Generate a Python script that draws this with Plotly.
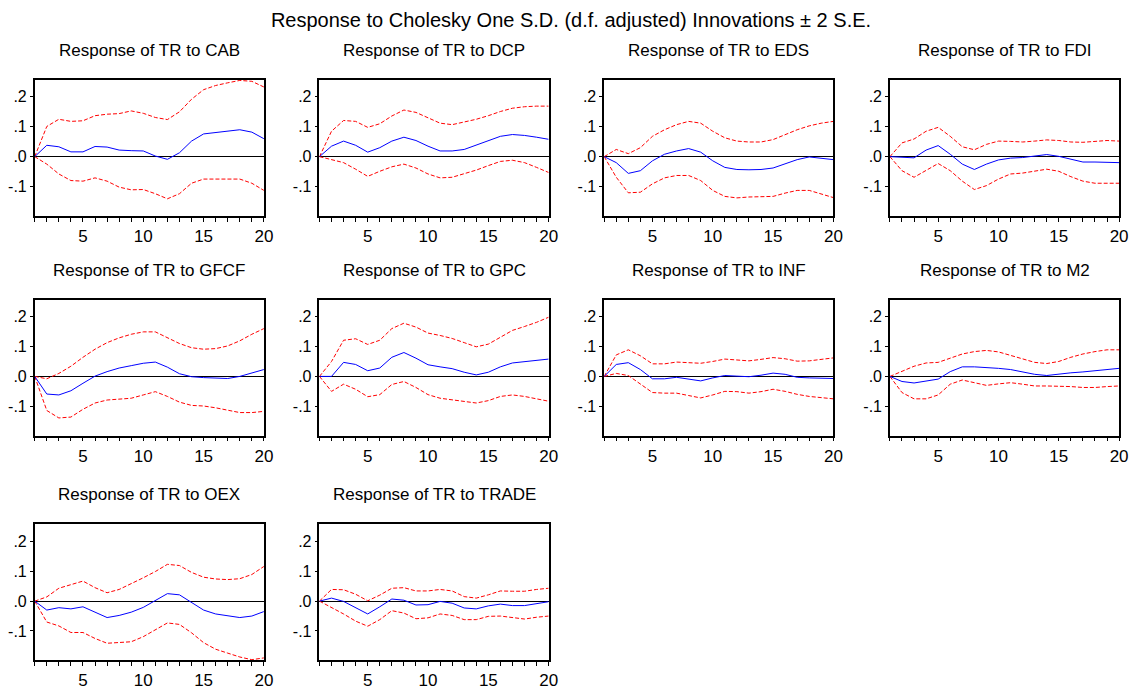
import plotly.graph_objects as go

periods = list(range(1, 21))
shocks = ["CAB", "DCP", "EDS", "FDI", "GFCF", "GPC", "INF", "M2", "OEX", "TRADE"]

y_tick_vals = [0.2, 0.1, 0.0, -0.1]
y_tick_text = [".2", ".1", ".0", "-.1"]
x_tick_vals = [5, 10, 15, 20]

cab_resp = [0, 0.038, 0.033, 0.016, 0.016, 0.034, 0.032, 0.022, 0.020, 0.019, 0.002, -0.009, 0.013, 0.052, 0.076, 0.080, 0.085, 0.090, 0.082, 0.060]
cab_upper = [0, 0.101, 0.125, 0.118, 0.120, 0.137, 0.142, 0.144, 0.153, 0.145, 0.131, 0.124, 0.150, 0.192, 0.224, 0.238, 0.247, 0.255, 0.252, 0.233]
cab_lower = [0, -0.025, -0.058, -0.080, -0.082, -0.071, -0.082, -0.102, -0.111, -0.110, -0.124, -0.141, -0.124, -0.089, -0.075, -0.075, -0.075, -0.075, -0.089, -0.113]

dcp_resp = [0, 0.035, 0.052, 0.038, 0.015, 0.030, 0.052, 0.065, 0.054, 0.035, 0.019, 0.019, 0.024, 0.038, 0.054, 0.068, 0.074, 0.071, 0.065, 0.058]
dcp_upper = [0, 0.085, 0.121, 0.118, 0.098, 0.110, 0.136, 0.156, 0.148, 0.129, 0.112, 0.107, 0.115, 0.125, 0.137, 0.151, 0.162, 0.167, 0.169, 0.169]
dcp_lower = [0, -0.009, -0.020, -0.042, -0.066, -0.049, -0.034, -0.025, -0.038, -0.058, -0.071, -0.069, -0.058, -0.045, -0.030, -0.016, -0.012, -0.020, -0.036, -0.053]

eds_resp = [0, -0.020, -0.056, -0.047, -0.014, 0.008, 0.019, 0.027, 0.015, -0.014, -0.036, -0.043, -0.044, -0.043, -0.038, -0.025, -0.010, -0.001, -0.005, -0.010]
eds_upper = [0, 0.024, 0.010, 0.030, 0.068, 0.090, 0.107, 0.118, 0.112, 0.085, 0.063, 0.052, 0.049, 0.049, 0.057, 0.074, 0.090, 0.103, 0.112, 0.118]
eds_lower = [0, -0.069, -0.121, -0.119, -0.091, -0.071, -0.063, -0.063, -0.080, -0.113, -0.133, -0.138, -0.135, -0.135, -0.133, -0.122, -0.113, -0.113, -0.124, -0.137]

fdi_resp = [0, -0.001, -0.004, 0.022, 0.037, 0.008, -0.025, -0.043, -0.025, -0.011, -0.005, -0.003, 0.002, 0.007, 0.001, -0.009, -0.018, -0.018, -0.018, -0.020]
fdi_upper = [0, 0.046, 0.059, 0.085, 0.098, 0.068, 0.033, 0.023, 0.041, 0.052, 0.051, 0.049, 0.052, 0.056, 0.054, 0.049, 0.048, 0.052, 0.054, 0.052]
fdi_lower = [0, -0.047, -0.069, -0.045, -0.023, -0.047, -0.082, -0.110, -0.097, -0.075, -0.058, -0.055, -0.049, -0.042, -0.049, -0.067, -0.082, -0.089, -0.089, -0.089]

gfcf_resp = [0, -0.059, -0.062, -0.048, -0.023, 0.001, 0.016, 0.028, 0.036, 0.044, 0.048, 0.031, 0.009, -0.001, -0.004, -0.005, -0.007, 0.000, 0.012, 0.023]
gfcf_upper = [0, -0.008, 0.010, 0.034, 0.064, 0.091, 0.113, 0.129, 0.141, 0.149, 0.149, 0.130, 0.110, 0.096, 0.091, 0.093, 0.102, 0.119, 0.141, 0.160]
gfcf_lower = [0, -0.114, -0.139, -0.136, -0.110, -0.089, -0.079, -0.075, -0.073, -0.062, -0.051, -0.067, -0.086, -0.097, -0.099, -0.105, -0.114, -0.121, -0.121, -0.117]

gpc_resp = [0, 0.000, 0.047, 0.040, 0.019, 0.028, 0.064, 0.080, 0.061, 0.039, 0.032, 0.026, 0.014, 0.005, 0.014, 0.032, 0.045, 0.049, 0.054, 0.058]
gpc_upper = [0, 0.050, 0.121, 0.126, 0.107, 0.121, 0.160, 0.178, 0.165, 0.145, 0.137, 0.127, 0.113, 0.099, 0.108, 0.130, 0.154, 0.167, 0.181, 0.198]
gpc_lower = [0, -0.050, -0.026, -0.043, -0.068, -0.061, -0.027, -0.017, -0.037, -0.061, -0.073, -0.078, -0.084, -0.089, -0.081, -0.067, -0.062, -0.067, -0.075, -0.083]

inf_resp = [0, 0.040, 0.046, 0.023, -0.008, -0.008, -0.003, -0.010, -0.015, -0.005, 0.003, 0.001, -0.001, 0.004, 0.011, 0.007, -0.003, -0.005, -0.005, -0.007]
inf_upper = [0, 0.072, 0.089, 0.069, 0.042, 0.042, 0.048, 0.047, 0.044, 0.050, 0.058, 0.055, 0.052, 0.057, 0.063, 0.059, 0.051, 0.052, 0.058, 0.062]
inf_lower = [0, 0.010, 0.003, -0.026, -0.054, -0.056, -0.056, -0.064, -0.072, -0.062, -0.050, -0.051, -0.056, -0.051, -0.043, -0.050, -0.060, -0.067, -0.070, -0.075]

m2_resp = [0, -0.017, -0.022, -0.016, -0.009, 0.016, 0.032, 0.032, 0.030, 0.027, 0.023, 0.015, 0.007, 0.003, 0.008, 0.012, 0.015, 0.019, 0.024, 0.027]
m2_upper = [0, 0.017, 0.034, 0.045, 0.047, 0.061, 0.075, 0.083, 0.087, 0.082, 0.071, 0.058, 0.047, 0.043, 0.050, 0.064, 0.075, 0.083, 0.089, 0.089]
m2_lower = [0, -0.054, -0.075, -0.075, -0.062, -0.026, -0.012, -0.021, -0.030, -0.025, -0.021, -0.026, -0.032, -0.032, -0.032, -0.034, -0.037, -0.037, -0.034, -0.032]

oex_resp = [0, -0.030, -0.022, -0.026, -0.019, -0.037, -0.055, -0.048, -0.037, -0.021, 0.003, 0.025, 0.021, -0.004, -0.030, -0.043, -0.049, -0.055, -0.050, -0.035]
oex_upper = [0, 0.014, 0.043, 0.056, 0.067, 0.045, 0.028, 0.039, 0.058, 0.078, 0.099, 0.123, 0.119, 0.096, 0.080, 0.074, 0.072, 0.075, 0.089, 0.116]
oex_lower = [0, -0.070, -0.083, -0.105, -0.105, -0.125, -0.141, -0.139, -0.136, -0.119, -0.097, -0.073, -0.078, -0.106, -0.139, -0.161, -0.174, -0.187, -0.196, -0.190]

trade_resp = [0, 0.010, -0.001, -0.021, -0.043, -0.019, 0.007, 0.003, -0.013, -0.012, -0.001, -0.007, -0.023, -0.026, -0.016, -0.010, -0.015, -0.015, -0.008, -0.002]
trade_upper = [0, 0.039, 0.038, 0.023, 0.001, 0.020, 0.043, 0.045, 0.034, 0.034, 0.039, 0.034, 0.015, 0.010, 0.021, 0.034, 0.033, 0.033, 0.039, 0.043]
trade_lower = [0, -0.021, -0.043, -0.067, -0.084, -0.062, -0.032, -0.040, -0.059, -0.056, -0.043, -0.048, -0.062, -0.062, -0.051, -0.050, -0.056, -0.060, -0.054, -0.050]

responses = [cab_resp, dcp_resp, eds_resp, fdi_resp, gfcf_resp, gpc_resp, inf_resp, m2_resp, oex_resp, trade_resp]
uppers = [cab_upper, dcp_upper, eds_upper, fdi_upper, gfcf_upper, gpc_upper, inf_upper, m2_upper, oex_upper, trade_upper]
lowers = [cab_lower, dcp_lower, eds_lower, fdi_lower, gfcf_lower, gpc_lower, inf_lower, m2_lower, oex_lower, trade_lower]

W, H = 1142, 690
col_left = [35, 322, 609, 897]
panel_w = 231
row_top = [81, 304, 532]
panel_h = 138
title_y = [51, 274, 502]

FONT = "Liberation Sans, Arial, sans-serif"

fig = go.Figure()
layout = {}
annotations = []
for i, name in enumerate(shocks):
    r, c = divmod(i, 4)
    ax = "" if i == 0 else str(i + 1)
    xref, yref = "x" + ax, "y" + ax
    x0 = col_left[c] / W
    x1 = (col_left[c] + panel_w) / W
    y1 = 1 - row_top[r] / H
    y0 = 1 - (row_top[r] + panel_h) / H
    for ys, color, dash in ((uppers[i], "#ff0000", "dash"), (lowers[i], "#ff0000", "dash"), (responses[i], "#0000ff", "solid")):
        fig.add_trace(go.Scatter(x=periods, y=ys, mode="lines", xaxis=xref, yaxis=yref,
                                 line=dict(color=color, width=1, dash="4px,2px" if dash == "dash" else "solid"),
                                 showlegend=False, hoverinfo="x+y"))
    layout["xaxis" + ax] = dict(domain=[x0, x1], anchor=yref, range=[1, 20],
                                tickvals=x_tick_vals, ticks="outside", ticklen=4, tickcolor="black",
                                minor=dict(dtick=1, tick0=1, ticks="outside", ticklen=4, tickcolor="black", showgrid=False),
                                showgrid=False, zeroline=False, showline=True, mirror=True,
                                linecolor="black", linewidth=1.5,
                                tickfont=dict(family=FONT, size=17, color="black"))
    layout["yaxis" + ax] = dict(domain=[y0, y1], anchor=xref, range=[-0.198, 0.257],
                                tickvals=y_tick_vals, ticktext=y_tick_text, ticks="outside", ticklen=3,
                                tickcolor="black", showgrid=False, zeroline=True, zerolinecolor="black",
                                zerolinewidth=1, showline=True, mirror=True, linecolor="black", linewidth=1.5,
                                tickfont=dict(family=FONT, size=16, color="black"))
    annotations.append(dict(text="Response of TR to " + name, xref="paper", yref="paper",
                            x=(x0 + x1) / 2, y=1 - title_y[r] / H, xanchor="center", yanchor="middle",
                            showarrow=False, font=dict(family=FONT, size=17, color="black")))

fig.update_layout(**layout)
fig.update_layout(
    width=W, height=H, margin=dict(l=0, r=0, t=0, b=0),
    paper_bgcolor="white", plot_bgcolor="white",
    annotations=annotations,
    title=dict(text="Response to Cholesky One S.D. (d.f. adjusted) Innovations \u00b1 2 S.E.",
               x=0.5, xanchor="center", y=1 - 20 / H, yanchor="middle",
               font=dict(family=FONT, size=20, color="black")),
    font=dict(family=FONT),
)

fig.write_html("out.html", config={"displayModeBar": False},
               post_script="document.body.style.margin='0';")
